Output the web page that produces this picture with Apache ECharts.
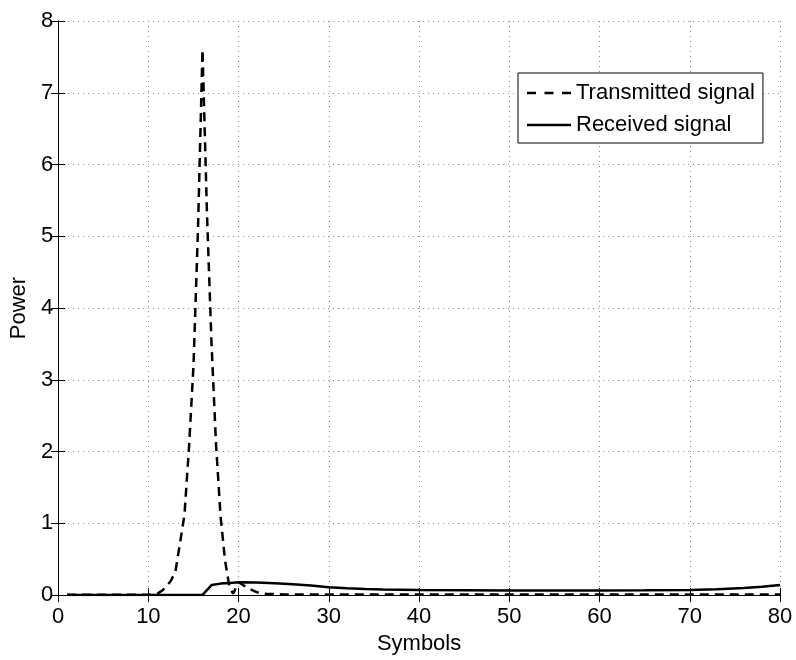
<!DOCTYPE html>
<html>
<head>
<meta charset="utf-8">
<script src="https://cdn.jsdelivr.net/npm/echarts@6/dist/echarts.min.js"></script>
<style>
  html, body { margin: 0; padding: 0; background: #fff; }
  #chart { width: 796px; height: 660px; }
</style>
</head>
<body>
<div id="chart"></div>
<script>
// ---- data ----
const txSymbols = [1,2,3,4,5,6,7,8,9,10,11,11.5,12,12.5,13,13.5,14,14.5,15,15.5,16,16.5,17,17.5,18,18.5,19,19.4,20,21,22,23,24,25,30,35,40,45,50,55,60,65,70,75,80];
const txPower   = [0.005,0.005,0.005,0.005,0.005,0.005,0.005,0.005,0.005,0.005,0.02,0.06,0.12,0.2,0.33,0.72,1.12,2.05,3.2,5.1,7.6,5.3,3.5,2.1,1.1,0.48,0.1,0.02,0.18,0.1,0.04,0.02,0.015,0.01,0.01,0.01,0.01,0.01,0.01,0.01,0.01,0.01,0.01,0.01,0.01];

const rxSymbols = [1,2,3,4,5,6,7,8,9,10,11,12,13,14,15,16,17,18,19,20,22,24,26,28,30,32,34,36,40,45,50,55,60,65,70,73,76,78,80];
const rxPower   = [0.003,0.003,0.003,0.003,0.003,0.003,0.003,0.003,0.003,0.003,0.003,0.003,0.003,0.003,0.003,0.003,0.14,0.16,0.17,0.18,0.175,0.165,0.15,0.135,0.11,0.095,0.085,0.078,0.07,0.067,0.065,0.064,0.064,0.066,0.07,0.08,0.1,0.115,0.14];

const xTicks = { min: 0, max: 80, interval: 10 };
const yTicks = { min: 0, max: 8, interval: 1 };
const seriesNames = ['Transmitted signal', 'Received signal'];

const FONT = '"Liberation Sans", Arial, Helvetica, sans-serif';
const pair = (xs, ys) => xs.map((x, i) => [x, ys[i]]);

// legend line samples drawn as filled paths (dashed / solid)
const dashedIcon = 'path://M0,0H9V2.5H0Z M17.5,0H26.5V2.5H17.5Z M35,0H44V2.5H35Z';
const solidIcon  = 'path://M0,0H44V2.5H0Z';

const gridLine = { show: true, lineStyle: { color: '#8a8a8a', width: 1, type: [1, 4] } };
const tickIn = { show: true, inside: true, length: 7, lineStyle: { color: '#000', width: 1 } };
const axLine = { show: true, lineStyle: { color: '#000', width: 1 } };

const chart = echarts.init(document.getElementById('chart'), null, { renderer: 'canvas' });
chart.setOption({
  animation: false,
  backgroundColor: '#fff',
  textStyle: { fontFamily: FONT },
  grid: { left: 57, right: 16, top: 21, bottom: 63, containLabel: false },
  legend: {
    data: [
      { name: seriesNames[0], icon: dashedIcon, itemStyle: { color: '#000' } },
      { name: seriesNames[1], icon: solidIcon, itemStyle: { color: '#000' } }
    ],
    orient: 'vertical',
    left: 518, top: 73,
    padding: [9, 8, 7, 9],
    itemWidth: 44, itemHeight: 2.5, itemGap: 10,
    symbolKeepAspect: false,
    backgroundColor: '#fff', borderColor: '#000', borderWidth: 1,
    textStyle: { fontSize: 22, color: '#000', fontFamily: FONT }
  },
  xAxis: [
    { type: 'value', position: 'bottom', min: xTicks.min, max: xTicks.max, interval: xTicks.interval,
      name: 'Symbols', nameLocation: 'middle', nameGap: 35,
      nameTextStyle: { fontSize: 22, color: '#000', fontFamily: FONT },
      axisLine: axLine, axisTick: tickIn,
      axisLabel: { fontSize: 22, color: '#000', margin: 11, fontFamily: FONT },
      splitLine: gridLine },
    { type: 'value', position: 'top', min: xTicks.min, max: xTicks.max, interval: xTicks.interval,
      axisLine: axLine, axisTick: tickIn, axisLabel: { show: false }, splitLine: { show: false } }
  ],
  yAxis: [
    { type: 'value', position: 'left', min: yTicks.min, max: yTicks.max, interval: yTicks.interval,
      name: 'Power', nameLocation: 'middle', nameGap: 28,
      nameTextStyle: { fontSize: 22, color: '#000', fontFamily: FONT },
      axisLine: axLine, axisTick: tickIn,
      axisLabel: { fontSize: 22, color: '#000', margin: 5, fontFamily: FONT },
      splitLine: gridLine },
    { type: 'value', position: 'right', min: yTicks.min, max: yTicks.max, interval: yTicks.interval,
      axisLine: axLine, axisTick: tickIn, axisLabel: { show: false }, splitLine: { show: false } }
  ],
  series: [
    { name: seriesNames[0], type: 'line', xAxisIndex: 0, yAxisIndex: 0,
      data: pair(txSymbols, txPower), symbol: 'none', smooth: false,
      lineStyle: { color: '#000', width: 2.5, type: [9, 6] }, itemStyle: { color: '#000' } },
    { name: seriesNames[1], type: 'line', xAxisIndex: 0, yAxisIndex: 0,
      data: pair(rxSymbols, rxPower), symbol: 'none', smooth: false,
      lineStyle: { color: '#000', width: 2.5, type: 'solid' }, itemStyle: { color: '#000' } }
  ]
});
</script>
</body>
</html>
